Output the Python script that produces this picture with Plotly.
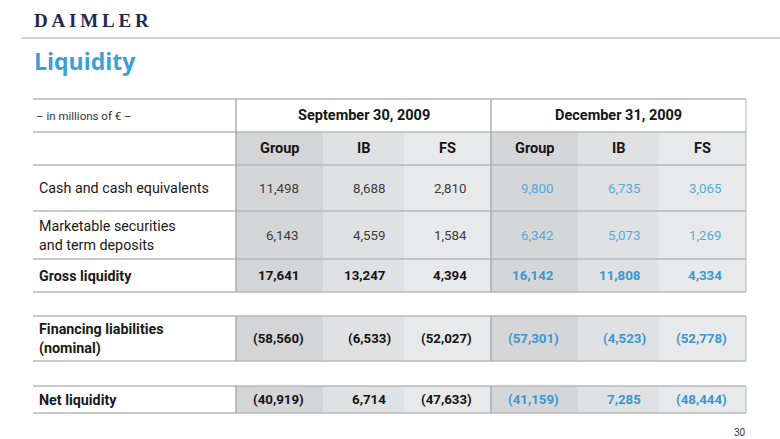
import plotly.graph_objects as go

# ---------------- data ----------------
periods = ["September 30, 2009", "December 31, 2009"]
segments = ["Group", "IB", "FS"]
row_labels = ["Cash and cash equivalents",
              "Marketable securities<br>and term deposits",
              "Gross liquidity",
              "Financing liabilities<br>(nominal)",
              "Net liquidity"]
row_bold = [False, False, True, True, True]

sep_2009 = [[11498, 8688, 2810],
            [6143, 4559, 1584],
            [17641, 13247, 4394],
            [-58560, -6533, -52027],
            [-40919, 6714, -47633]]
dec_2009 = [[9800, 6735, 3065],
            [6342, 5073, 1269],
            [16142, 11808, 4334],
            [-57301, -4523, -52778],
            [-41159, 7285, -48444]]

unit_label = "– in millions of € –"
title = "Liquidity"
logo = "DAIMLER"
page_no = "30"

# ---------------- layout constants ----------------
W, H = 780, 439
col_edges = [236, 323, 404, 491, 578, 659, 746]
table_left = 33
label_x = 38
hdr1 = (99, 132)
hdr2 = (132, 165)
row_bounds = [(165, 211), (211, 259), (259, 292), (316, 361), (386, 413)]
blocks = [(99, 292), (316, 361), (386, 413)]
col_fill = ["#d4d5d7", "#e0e1e3", "#e8e9ea", "#d5d6d8", "#e0e1e3", "#e8e9ea"]
right_pad = [24, 18, 24, 24, 18, 24]

fig = go.Figure()
# invisible trace to establish axes
fig.add_trace(go.Scatter(x=[0, W], y=[0, H], mode="markers",
                         marker=dict(opacity=0), hoverinfo="skip", showlegend=False))

shapes = []
ann = []

# cell backgrounds (grey columns) for header row 2 and data rows
for block_top, block_bot in blocks:
    top = hdr2[0] if block_top == hdr1[0] else block_top
    for c in range(6):
        shapes.append(dict(type="rect", xref="x", yref="y",
                           x0=col_edges[c], x1=col_edges[c + 1], y0=top, y1=block_bot,
                           fillcolor=col_fill[c], line=dict(width=0), layer="below"))

# horizontal lines
hlines = [hdr1[0], hdr1[1], hdr2[1]] + [b for r in row_bounds for b in r]
for y in sorted(set(hlines)):
    shapes.append(dict(type="line", xref="x", yref="y", x0=table_left, x1=col_edges[-1],
                       y0=y, y1=y, line=dict(color="#b9b9b9", width=1.3)))

# vertical lines
for block_top, block_bot in blocks:
    for xv in (col_edges[0], col_edges[3]):
        shapes.append(dict(type="line", xref="x", yref="y", x0=xv, x1=xv,
                           y0=block_top, y1=block_bot, line=dict(color="#a4a4a4", width=1.3)))
    shapes.append(dict(type="line", xref="x", yref="y", x0=col_edges[-1], x1=col_edges[-1],
                       y0=block_top, y1=block_bot, line=dict(color="#c4c4c4", width=1.3)))

# top rule under the logo
shapes.append(dict(type="line", xref="x", yref="y", x0=21, x1=W, y0=38, y1=38,
                   line=dict(color="#d2d2d2", width=2)))

# header texts
ann.append(dict(x=34, y=(hdr1[0] + hdr1[1]) / 2, text=unit_label, xanchor="left",
                yanchor="middle", font=dict(family="Roboto", size=11.5, color="#333333")))
for p, period in enumerate(periods):
    xc = (col_edges[3 * p] + col_edges[3 * p + 3]) / 2
    ann.append(dict(x=xc, y=(hdr1[0] + hdr1[1]) / 2, text=f"<b>{period}</b>",
                    xanchor="center", yanchor="middle",
                    font=dict(family="Roboto", size=14.5, color="#151515")))
    for s, seg in enumerate(segments):
        c = 3 * p + s
        ann.append(dict(x=(col_edges[c] + col_edges[c + 1]) / 2, y=(hdr2[0] + hdr2[1]) / 2,
                        text=f"<b>{seg}</b>", xanchor="center", yanchor="middle",
                        font=dict(family="Roboto", size=14.5, color="#151515")))

# row labels and values
def fmt(v):
    return f"({abs(v):,})" if v < 0 else f"{v:,}"

for r, label in enumerate(row_labels):
    y0, y1 = row_bounds[r]
    yc = (y0 + y1) / 2
    bold = row_bold[r]
    ann.append(dict(x=label_x - 1, y=yc, text=f"<b>{label}</b>" if bold else label,
                    xanchor="left", yanchor="middle", align="left",
                    font=dict(family="Roboto", size=14.3, color="#1a1a1a")))
    for p, vals in enumerate((sep_2009[r], dec_2009[r])):
        for s, v in enumerate(vals):
            c = 3 * p + s
            xr = col_edges[c + 1] - right_pad[c] + (5 if v < 0 else 0)
            if p == 0:
                color = "#141414" if bold else "#3c3c3c"
            else:
                color = "#3898d0" if bold else "#55a9db"
            t = fmt(v)
            ann.append(dict(x=xr + 2, y=yc, text=f"<b>{t}</b>" if bold else t,
                            xanchor="right", yanchor="middle",
                            font=dict(family="Roboto", size=13.3, color=color)))

# logo, title, page number
ann.append(dict(x=32, y=20, text="<b>" + "\u2009".join(logo) + "</b>", xanchor="left",
                yanchor="middle", font=dict(family="Liberation Serif", size=19, color="#1f2b55")))
ann.append(dict(x=32, y=61, text=f"<b>{title}</b>", xanchor="left", yanchor="middle",
                font=dict(family="Open Sans", size=23, color="#3d9fd3")))
ann.append(dict(x=748, y=432, text=page_no, xanchor="right", yanchor="middle",
                font=dict(family="Roboto", size=10, color="#333333")))

for a in ann:
    a.update(xref="x", yref="y", showarrow=False)

fig.update_layout(
    width=W, height=H, margin=dict(l=0, r=0, t=0, b=0),
    paper_bgcolor="white", plot_bgcolor="white",
    xaxis=dict(range=[0, W], visible=False, fixedrange=True),
    yaxis=dict(range=[H, 0], visible=False, fixedrange=True),
    shapes=shapes, annotations=ann, showlegend=False,
)
fig.write_html("out.html", config={"displayModeBar": False},
               post_script="document.body.style.margin='0';document.body.style.overflow='hidden';")
